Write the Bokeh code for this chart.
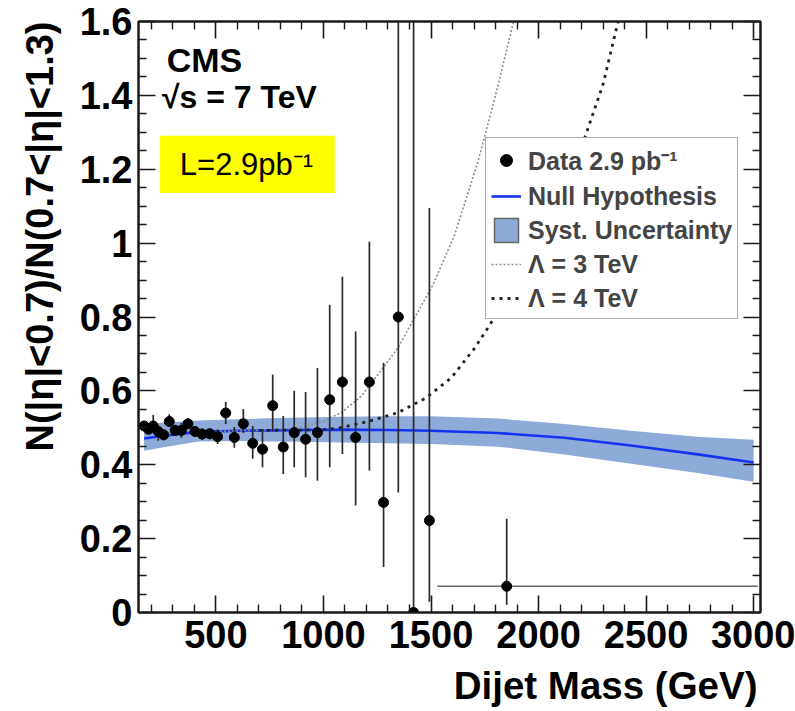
from bokeh.plotting import figure
from bokeh.models import (Range1d, FixedTicker, LinearAxis, Label, BoxAnnotation,
                          Legend, LegendItem, CustomJSTickFormatter, Title)
from bokeh.embed import file_html
from bokeh.resources import INLINE

FONT = "Liberation Sans"

# ---------------- data ----------------
mass = [166, 186.5, 208.5, 232, 257, 283, 310.5, 339.5, 370, 402.5, 436, 471,
        507.5, 545.5, 585.5, 627.5, 671, 716.5, 764, 813, 864, 917, 972, 1029,
        1088, 1149.5, 1213.5, 1279.5, 1348, 1419, 1492.5, 1852]
ratio = [0.505, 0.496, 0.505, 0.490, 0.481, 0.517, 0.493, 0.493, 0.511, 0.490,
         0.483, 0.484, 0.476, 0.540, 0.474, 0.511, 0.458, 0.442, 0.560, 0.448,
         0.487, 0.469, 0.487, 0.576, 0.624, 0.474, 0.624, 0.298, 0.800, 0.000,
         0.249, 0.071]
err_up = [0.012, 0.012, 0.030, 0.015, 0.015, 0.020, 0.015, 0.020, 0.015, 0.015,
          0.015, 0.015, 0.020, 0.030, 0.028, 0.040, 0.047, 0.054, 0.084, 0.084,
          0.113, 0.128, 0.175, 0.257, 0.285, 0.287, 0.380, 0.378, 1.200, 2.000,
          0.846, 0.183]
err_dn = [0.012, 0.012, 0.020, 0.025, 0.015, 0.015, 0.015, 0.020, 0.015, 0.015,
          0.015, 0.015, 0.020, 0.030, 0.028, 0.025, 0.042, 0.049, 0.070, 0.073,
          0.094, 0.103, 0.130, 0.183, 0.195, 0.184, 0.240, 0.175, 0.475, 0.000,
          0.220, 0.050]
last_bin_edges = [1530, 3019]

null_mass = [166, 250, 418, 600, 743, 900, 1083, 1300, 1500, 1810, 2120, 2430, 2740, 3000]
null_ratio = [0.471, 0.478, 0.489, 0.492, 0.493, 0.494, 0.495, 0.494, 0.492, 0.486,
              0.473, 0.452, 0.428, 0.406]
syst_high = [0.510, 0.514, 0.520, 0.523, 0.526, 0.528, 0.530, 0.531, 0.531, 0.525,
             0.510, 0.492, 0.476, 0.468]
syst_low = [0.438, 0.447, 0.463, 0.464, 0.463, 0.462, 0.460, 0.458, 0.456, 0.449,
            0.428, 0.403, 0.378, 0.354]

lam3_mass = [500, 700, 850, 913, 1000, 1083, 1176, 1277, 1346, 1393, 1509, 1609,
             1718, 1800, 1880, 1900]
lam3_ratio = [0.490, 0.494, 0.498, 0.503, 0.518, 0.541, 0.586, 0.662, 0.716, 0.766,
              0.887, 1.021, 1.220, 1.400, 1.590, 1.640]

lam4_mass = [700, 900, 1000, 1068, 1207, 1346, 1474, 1594, 1702, 1764, 1900, 2050,
             2200, 2300, 2370, 2390]
lam4_ratio = [0.493, 0.494, 0.495, 0.499, 0.517, 0.541, 0.580, 0.635, 0.715, 0.770,
              0.900, 1.060, 1.260, 1.430, 1.600, 1.650]

x_major = [500, 1000, 1500, 2000, 2500, 3000]
x_minor = [m for m in range(200, 3001, 100) if m % 500 != 0]
y_major = [0, 0.2, 0.4, 0.6, 0.8, 1.0, 1.2, 1.4, 1.6]
y_minor = [round(0.05 * i, 2) for i in range(33) if i % 4 != 0]

x_title = "Dijet Mass (GeV)"
y_title = "N(|η|<0.7)/N(0.7<|η|<1.3)"

# ---------------- figure ----------------
p = figure(width=795, height=711, x_range=Range1d(140, 3032), y_range=Range1d(0, 1.6),
           output_backend="svg", toolbar_location=None,
           min_border_left=137, min_border_right=35, min_border_top=21, min_border_bottom=99,
           background_fill_color="white", border_fill_color="white")
p.grid.visible = False
p.outline_line_color = "#1a1a1a"
p.outline_line_width = 2

def style_axis(ax, labels=True):
    ax.axis_line_color = "#1a1a1a"
    ax.axis_line_width = 2
    ax.major_tick_in = 17
    ax.major_tick_out = 0
    ax.minor_tick_in = 8
    ax.minor_tick_out = 0
    ax.major_tick_line_color = "#1a1a1a"
    ax.minor_tick_line_color = "#1a1a1a"
    ax.major_tick_line_width = 1.6
    ax.minor_tick_line_width = 1.4
    ax.major_label_text_font = FONT
    ax.major_label_text_font_style = "bold"
    ax.major_label_text_font_size = "38px"
    ax.major_label_text_color = "black"
    if not labels:
        ax.formatter = CustomJSTickFormatter(code="return ''")
        ax.major_label_text_font_size = "1px"
        ax.major_label_standoff = 0

xa = p.xaxis[0]
ya = p.yaxis[0]
style_axis(xa)
style_axis(ya)
xa.ticker = FixedTicker(ticks=x_major, minor_ticks=x_minor)
ya.ticker = FixedTicker(ticks=y_major, minor_ticks=y_minor)
ya.formatter = CustomJSTickFormatter(code="return tick.toFixed(1).replace(/\\.0$/, '')")
xa.major_label_standoff = 8
ya.major_label_standoff = 6

top_ax = LinearAxis(ticker=FixedTicker(ticks=x_major, minor_ticks=x_minor))
right_ax = LinearAxis(ticker=FixedTicker(ticks=y_major, minor_ticks=y_minor))
style_axis(top_ax, labels=False)
style_axis(right_ax, labels=False)
p.add_layout(top_ax, "above")
p.add_layout(right_ax, "right")

# invisible spacer axis below the tick labels, so the x title sits lower
spacer = LinearAxis(ticker=FixedTicker(ticks=x_major, minor_ticks=[]),
                    axis_line_color=None, major_tick_out=11, minor_tick_out=0,
                    major_tick_in=0, minor_tick_in=0, major_tick_line_color=None,
                    minor_tick_line_color=None, major_label_standoff=0,
                    major_label_text_font_size="1px",
                    formatter=CustomJSTickFormatter(code="return ''"))
p.add_layout(spacer, "below")

# axis titles as side-panel titles, right/top aligned like the ROOT original
p.add_layout(Title(text=x_title, align="right", vertical_align="bottom",
                   text_font=FONT, text_font_style="bold", text_font_size="38.5px",
                   text_color="black", offset=3, standoff=0), "below")
p.add_layout(Title(text=y_title, align="right", vertical_align="bottom",
                   text_font=FONT, text_font_style="bold", text_font_size="38px",
                   text_color="black", offset=0, standoff=32), "left")

# ---------------- glyphs ----------------
BAND = "#8eaad8"
p.varea(x=null_mass, y1=syst_low, y2=syst_high, fill_color=BAND, fill_alpha=1.0)
nan = float("nan")
band_key = p.quad(left=[nan], right=[nan], top=[nan], bottom=[nan], fill_color=BAND,
                  line_color="#666666", line_width=1.5)
null_r = p.line(null_mass, null_ratio, line_color="#1433f0", line_width=2.6)

l3 = p.line(lam3_mass, lam3_ratio, line_color="#8c8c8c", line_width=1.6, line_dash="2 2")
l4 = p.line(lam4_mass, lam4_ratio, line_color="#222222", line_width=2.8, line_dash="3 5")

lo = [r - d for r, d in zip(ratio, err_dn)]
hi = [r + u for r, u in zip(ratio, err_up)]
p.segment(x0=mass, y0=lo, x1=mass, y1=hi, line_color="#2a2a2a", line_width=1.7)
p.segment(x0=[last_bin_edges[0]], y0=[ratio[-1]], x1=[last_bin_edges[1]], y1=[ratio[-1]],
          line_color="#666666", line_width=1.7)
pts = p.scatter(mass, ratio, size=10, color="black")

# ---------------- texts ----------------
def lab(text, x, y, size, bold=True, **kw):
    p.add_layout(Label(x=x, y=y, text=text, text_font=FONT, text_font_size=size,
                       text_font_style="bold" if bold else "normal",
                       text_color="black", **kw))

lab("CMS", 271, 1.497, "34px", text_baseline="alphabetic")
lab("√s = 7 TeV", 249, 1.396, "32px", text_baseline="alphabetic")

p.add_layout(BoxAnnotation(left=240, right=1052, bottom=1.136, top=1.291,
                           fill_color="#ffff00", fill_alpha=1.0, line_color=None))
lab("L=2.9pb⁻¹", 332, 1.213, "31px", bold=False, text_baseline="alphabetic")

legend = Legend(items=[
    LegendItem(label="Data 2.9 pb⁻¹", renderers=[pts]),
    LegendItem(label="Null Hypothesis", renderers=[null_r]),
    LegendItem(label="Syst. Uncertainty", renderers=[band_key]),
    LegendItem(label="Λ = 3 TeV", renderers=[l3]),
    LegendItem(label="Λ = 4 TeV", renderers=[l4]),
], location=(347, 293))
legend.border_line_color = "#555555"
legend.border_line_width = 1.5
legend.background_fill_color = "white"
legend.background_fill_alpha = 1.0
legend.padding = 5
legend.margin = 0
legend.spacing = 4
legend.glyph_width = 30
legend.glyph_height = 30
legend.label_height = 30
legend.label_standoff = 7
legend.label_text_font = FONT
legend.label_text_font_style = "bold"
legend.label_text_font_size = "25px"
legend.label_text_baseline = "middle"
p.add_layout(legend)

open("out.html", "w").write(file_html(p, INLINE))
